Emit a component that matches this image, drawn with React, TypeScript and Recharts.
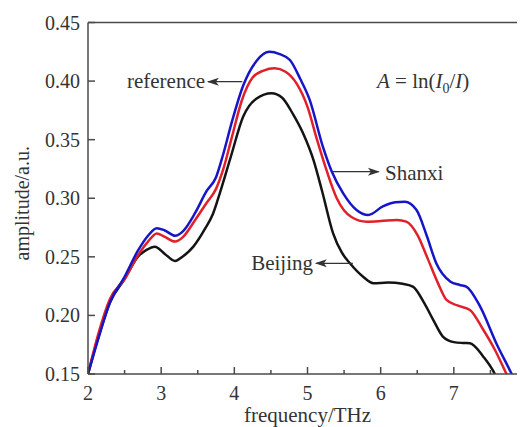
import React from 'react';
import { LineChart, Line, XAxis, YAxis, ReferenceLine, ReferenceDot } from 'recharts';

// ---- data ----
const referenceFreq = [2.0, 2.14, 2.3, 2.5, 2.68, 2.82, 2.94, 3.05, 3.19, 3.3, 3.46, 3.62, 3.75, 3.85, 3.97, 4.12, 4.3, 4.48, 4.62, 4.76, 4.9, 5.03, 5.21, 5.33, 5.49, 5.67, 5.83, 6.03, 6.2, 6.33, 6.49, 6.63, 6.76, 6.95, 7.08, 7.17, 7.36, 7.58, 7.79, 7.9];
const referenceAmp = [0.150, 0.180, 0.211, 0.233, 0.255, 0.268, 0.2745, 0.2725, 0.268, 0.272, 0.287, 0.306, 0.318, 0.338, 0.366, 0.396, 0.417, 0.425, 0.423, 0.418, 0.402, 0.384, 0.344, 0.323, 0.304, 0.290, 0.2857, 0.293, 0.2965, 0.297, 0.290, 0.268, 0.2445, 0.229, 0.226, 0.2246, 0.2075, 0.1763, 0.150, 0.135];

const shanxiFreq = [2.0, 2.14, 2.3, 2.5, 2.68, 2.82, 2.94, 3.05, 3.19, 3.3, 3.46, 3.62, 3.75, 3.85, 3.97, 4.1, 4.25, 4.4, 4.55, 4.7, 4.85, 5.0, 5.13, 5.27, 5.4, 5.6, 5.81, 6.0, 6.22, 6.35, 6.5, 6.65, 6.78, 6.9, 7.05, 7.22, 7.4, 7.55, 7.72, 7.82];
const shanxiAmp = [0.150, 0.184, 0.214, 0.231, 0.251, 0.263, 0.270, 0.267, 0.263, 0.267, 0.281, 0.296, 0.308, 0.325, 0.353, 0.383, 0.403, 0.409, 0.411, 0.408, 0.398, 0.378, 0.350, 0.322, 0.300, 0.284, 0.280, 0.2805, 0.2815, 0.280, 0.269, 0.2474, 0.228, 0.2132, 0.2085, 0.2047, 0.188, 0.172, 0.150, 0.137];

const beijingFreq = [2.0, 2.14, 2.3, 2.5, 2.68, 2.8, 2.915, 3.05, 3.19, 3.3, 3.44, 3.6, 3.71, 3.8, 3.95, 4.12, 4.3, 4.51, 4.65, 4.8, 4.95, 5.08, 5.2, 5.35, 5.47, 5.58, 5.76, 5.9, 6.1, 6.3, 6.44, 6.6, 6.72, 6.85, 7.0, 7.12, 7.22, 7.4, 7.56, 7.65];
const beijingAmp = [0.150, 0.181, 0.211, 0.231, 0.250, 0.256, 0.2587, 0.2525, 0.2465, 0.2505, 0.2587, 0.274, 0.287, 0.304, 0.335, 0.3696, 0.385, 0.3896, 0.386, 0.372, 0.354, 0.333, 0.306, 0.270, 0.2535, 0.2445, 0.233, 0.2275, 0.228, 0.227, 0.2246, 0.210, 0.196, 0.182, 0.1772, 0.1765, 0.1763, 0.165, 0.150, 0.137];

const xTicks = [2, 2.5, 3, 3.5, 4, 4.5, 5, 5.5, 6, 6.5, 7, 7.5, 8];
const xTickLabels: Record<number, string> = { 2: '2', 3: '3', 4: '4', 5: '5', 6: '6', 7: '7', 8: '8' };
const yTicks = [0.15, 0.2, 0.25, 0.3, 0.35, 0.4, 0.45];
const yTickLabels = ['0.15', '0.20', '0.25', '0.30', '0.35', '0.40', '0.45'];

const xTitle = 'frequency/THz';
const yTitle = 'amplitude/a.u.';

const toPoints = (fx: number[], fy: number[]) => fx.map((x, i) => ({ x, y: fy[i] }));
const referenceData = toPoints(referenceFreq, referenceAmp);
const shanxiData = toPoints(shanxiFreq, shanxiAmp);
const beijingData = toPoints(beijingFreq, beijingAmp);

// ---- styling ----
const FONT = "'Liberation Serif', 'Times New Roman', serif";
const AXIS = '#4a4a4a';
const TEXT = '#333';
const BLUE = '#1616c8';
const RED = '#e0202a';
const BLACK = '#141414';

const XTick = (props: any) => {
  const { x, y, payload } = props;
  const v = payload.value as number;
  const label = xTickLabels[v];
  const major = label !== undefined;
  return (
    <g>
      <line x1={x} x2={x} y1={y} y2={y - (major ? 7 : 4)} stroke={AXIS} strokeWidth={1.5} />
      {major && (
        <text x={x} y={y + 26} textAnchor="middle" fontSize={20} fontFamily={FONT} fill={TEXT}>
          {label}
        </text>
      )}
    </g>
  );
};

const YTick = (props: any) => {
  const { x, y, payload } = props;
  const i = yTicks.indexOf(payload.value);
  const label = i >= 0 ? yTickLabels[i] : String(payload.value);
  return (
    <g>
      <line x1={x} x2={x + 7} y1={y} y2={y} stroke={AXIS} strokeWidth={1.5} />
      <text x={x - 8} y={y} dy="0.35em" textAnchor="end" fontSize={20} fontFamily={FONT} fill={TEXT}>
        {label}
      </text>
    </g>
  );
};

const headLeft = (p: any) => (
  <polygon points={`${p.cx},${p.cy} ${p.cx + 12},${p.cy - 4} ${p.cx + 9},${p.cy} ${p.cx + 12},${p.cy + 4}`} fill={TEXT} />
);
const headRight = (p: any) => (
  <polygon points={`${p.cx},${p.cy} ${p.cx - 12},${p.cy - 4} ${p.cx - 9},${p.cy} ${p.cx - 12},${p.cy + 4}`} fill={TEXT} />
);

const textShape = (content: React.ReactNode, anchor: 'start' | 'end', dy: number) => (p: any) => (
  <text x={p.cx} y={p.cy + dy} textAnchor={anchor} fontSize={21} fontFamily={FONT} fill={TEXT}>
    {content}
  </text>
);

const formula = (
  <>
    <tspan fontStyle="italic">A</tspan>
    <tspan> = ln(</tspan>
    <tspan fontStyle="italic">I</tspan>
    <tspan dy={5} fontSize={14}>0</tspan>
    <tspan dy={-5}>/</tspan>
    <tspan fontStyle="italic">I</tspan>
    <tspan>)</tspan>
  </>
);

export default function App() {
  return (
    <div style={{ width: 517, height: 419, overflow: 'hidden' }}>
      <LineChart width={540} height={419} margin={{ top: 14.5, right: 21, bottom: 23, left: 0 }}>
        <XAxis
          type="number"
          dataKey="x"
          domain={[2, 8]}
          ticks={xTicks}
          interval={0}
          allowDataOverflow
          height={30}
          tickSize={0}
          tickMargin={0}
          tickLine={false}
          tick={<XTick />}
          axisLine={{ stroke: AXIS, strokeWidth: 1.5 }}
          label={{
            content: (p: any) => (
              <text
                x={p.viewBox.x + p.viewBox.width / 2}
                y={p.viewBox.y + 48}
                textAnchor="middle"
                fontSize={21}
                fontFamily={FONT}
                fill={TEXT}
              >
                {xTitle}
              </text>
            ),
          }}
        />
        <YAxis
          type="number"
          dataKey="y"
          domain={[0.15, 0.45]}
          ticks={yTicks}
          interval={0}
          allowDataOverflow
          width={80}
          tickSize={0}
          tickMargin={0}
          tickLine={false}
          tick={<YTick />}
          axisLine={{ stroke: AXIS, strokeWidth: 1.5 }}
          label={{
            content: (p: any) => {
              const cx = 14;
              const cy = p.viewBox.y + p.viewBox.height / 2 + 5;
              return (
                <text
                  x={cx}
                  y={cy}
                  dy="0.35em"
                  transform={`rotate(-90, ${cx}, ${cy})`}
                  textAnchor="middle"
                  fontSize={20}
                  fontFamily={FONT}
                  fill={TEXT}
                >
                  {yTitle}
                </text>
              );
            },
          }}
        />
        <ReferenceLine y={0.45} stroke={AXIS} strokeWidth={1.5} />
        <ReferenceLine x={8} stroke={AXIS} strokeWidth={1.5} />

        <Line data={beijingData} dataKey="y" type="monotone" stroke={BLACK} strokeWidth={2.5} dot={false} isAnimationActive={false} />
        <Line data={shanxiData} dataKey="y" type="monotone" stroke={RED} strokeWidth={2.5} dot={false} isAnimationActive={false} />
        <Line data={referenceData} dataKey="y" type="monotone" stroke={BLUE} strokeWidth={2.5} dot={false} isAnimationActive={false} />

        {/* annotations */}
        <ReferenceLine segment={[{ x: 4.11, y: 0.3995 }, { x: 3.64, y: 0.3995 }]} stroke={TEXT} strokeWidth={1.3} />
        <ReferenceDot x={3.625} y={0.3995} r={0} shape={headLeft} />
        <ReferenceDot x={3.6} y={0.3995} r={0} shape={textShape('reference', 'end', 6)} />

        <ReferenceLine segment={[{ x: 5.33, y: 0.3227 }, { x: 5.97, y: 0.3227 }]} stroke={TEXT} strokeWidth={1.3} />
        <ReferenceDot x={5.99} y={0.3227} r={0} shape={headRight} />
        <ReferenceDot x={6.06} y={0.3227} r={0} shape={textShape('Shanxi', 'start', 8)} />

        <ReferenceLine segment={[{ x: 5.62, y: 0.2445 }, { x: 5.12, y: 0.2445 }]} stroke={TEXT} strokeWidth={1.3} />
        <ReferenceDot x={5.1} y={0.2445} r={0} shape={headLeft} />
        <ReferenceDot x={5.075} y={0.2445} r={0} shape={textShape('Beijing', 'end', 7)} />

        <ReferenceDot x={5.95} y={0.394} r={0} shape={textShape(formula, 'start', 0)} />
      </LineChart>
    </div>
  );
}
